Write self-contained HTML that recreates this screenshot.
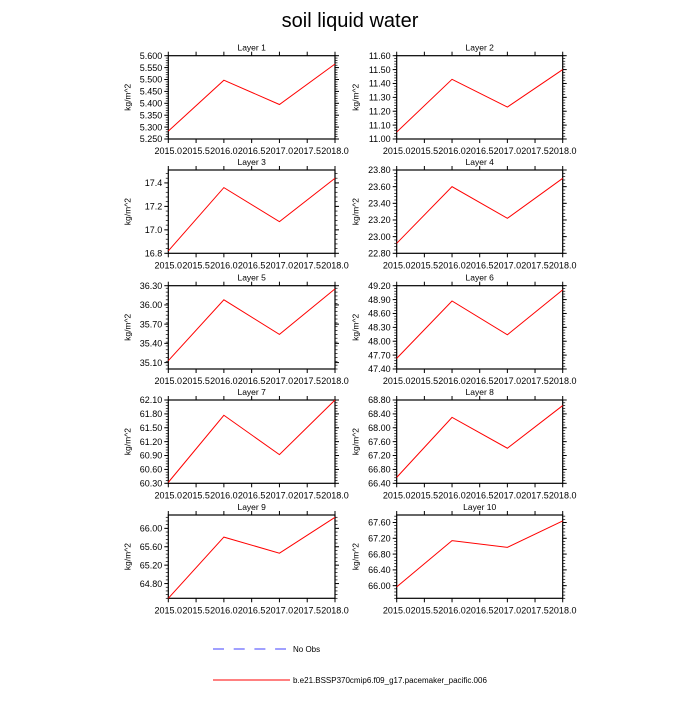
<!DOCTYPE html>
<html><head><meta charset="utf-8"><style>
html,body{margin:0;padding:0;background:#fff;}
svg text{font-family:"Liberation Sans",sans-serif;fill:#000;}
</style></head><body>
<svg id="chart" width="700" height="700" viewBox="0 0 700 700">
<text x="350" y="27" font-size="20" text-anchor="middle">soil liquid water</text>
<g id="panels"></g>
<g>
<line x1="213" y1="649" x2="286" y2="649" stroke="#4040ff" stroke-width="1" stroke-dasharray="11,9.7"/>
<text x="293" y="652" font-size="8">No Obs</text>
<line x1="213" y1="680" x2="290" y2="680" stroke="#ff0000" stroke-width="1"/>
<text x="293" y="683" font-size="8">b.e21.BSSP370cmip6.f09_g17.pacemaker_pacific.006</text>
</g>
</svg>
<script>
const years = [2015, 2016, 2017, 2018];
const xTicks = [2015.0, 2015.5, 2016.0, 2016.5, 2017.0, 2017.5, 2018.0];
const layerNames = ["Layer 1","Layer 2","Layer 3","Layer 4","Layer 5","Layer 6","Layer 7","Layer 8","Layer 9","Layer 10"];
const layer1 = [5.283, 5.497, 5.395, 5.565];
const layer2 = [11.05, 11.43, 11.23, 11.50];
const layer3 = [16.82, 17.36, 17.07, 17.44];
const layer4 = [22.92, 23.60, 23.22, 23.70];
const layer5 = [35.13, 36.08, 35.54, 36.25];
const layer6 = [47.63, 48.87, 48.14, 49.11];
const layer7 = [60.32, 61.77, 60.92, 62.10];
const layer8 = [66.57, 68.30, 67.41, 68.64];
const layer9 = [64.48, 65.81, 65.46, 66.24];
const layer10 = [65.97, 67.14, 66.97, 67.64];
const yMins = [5.25, 11.00, 16.80, 22.80, 35.00, 47.40, 60.30, 66.40, 64.48, 65.68];
const yMaxs = [5.60, 11.60, 17.51, 23.80, 36.30, 49.20, 62.10, 68.80, 66.29, 67.79];
const yTickStarts = [5.25, 11.00, 16.8, 22.80, 35.10, 47.40, 60.30, 66.40, 64.80, 66.00];
const yTickSteps = [0.05, 0.10, 0.2, 0.20, 0.30, 0.30, 0.30, 0.40, 0.40, 0.40];
const yDecimals = [3, 2, 1, 2, 2, 2, 2, 2, 2, 2];
const series = [layer1,layer2,layer3,layer4,layer5,layer6,layer7,layer8,layer9,layer10];

const NS = "http://www.w3.org/2000/svg";
const root = document.getElementById("panels");
function mk(tag, attrs, parent){const e=document.createElementNS(NS,tag);for(const k in attrs)e.setAttribute(k,attrs[k]);parent.appendChild(e);return e;}
const colX = [168.3, 396.7], W = [166.7, 166], tops = [55.7, 170, 285.7, 400, 515], H = 83.3;

for (let i = 0; i < 10; i++) {
  const x0 = colX[i % 2], w = W[i % 2], y0 = tops[Math.floor(i / 2)];
  const g = mk("g", {}, root);
  
  
  const xs = v => x0 + (v - 2015) / 3 * w;
  const ys = v => y0 + H - (v - yMins[i]) / (yMaxs[i] - yMins[i]) * H;
  const t = mk("text", {x: x0 + w / 2, y: y0 - 5, "font-size": 8.5, "text-anchor": "middle"}, g);
  t.textContent = layerNames[i];
  
  
  const yl = mk("text", {x: 0, y: 0, "font-size": 8.5, "text-anchor": "middle", transform: `translate(${x0 - 38},${y0 + H / 2}) rotate(-90)`}, g);
  yl.textContent = "kg/m^2";
  
  
  xTicks.forEach(v => {
    const px = xs(v);
    mk("line", {x1: px, y1: y0 + H, x2: px, y2: y0 + H + 4, stroke: "#000", "stroke-width": 1}, g);
    mk("line", {x1: px, y1: y0, x2: px, y2: y0 - 4, stroke: "#000", "stroke-width": 1}, g);
    const lt = mk("text", {x: px, y: y0 + H + 15, "font-size": 9, "text-anchor": "middle"}, g);
    lt.textContent = v.toFixed(1);
    
    
  });
  const step = yTickSteps[i], minor = step / 5;
  for (let k = 0; ; k++) {
    const v = yMins[i] + k * minor;
    if (v > yMaxs[i] + 1e-9) break;
    const py = ys(v);
    mk("line", {x1: x0, y1: py, x2: x0 - 2.5, y2: py, stroke: "#000", "stroke-width": 0.7}, g);
    mk("line", {x1: x0 + w, y1: py, x2: x0 + w + 2.5, y2: py, stroke: "#000", "stroke-width": 0.7}, g);
  }
  for (let v = yTickStarts[i]; v <= yMaxs[i] + 1e-9; v += step) {
    const py = ys(v);
    mk("line", {x1: x0, y1: py, x2: x0 - 4, y2: py, stroke: "#000", "stroke-width": 1}, g);
    mk("line", {x1: x0 + w, y1: py, x2: x0 + w + 4, y2: py, stroke: "#000", "stroke-width": 1}, g);
    const lt = mk("text", {x: x0 - 6, y: py + 3.2, "font-size": 9, "text-anchor": "end"}, g);
    lt.textContent = v.toFixed(yDecimals[i]);
    
    
  }
  const fr = mk("rect", {x: x0, y: y0, width: w, height: H, fill: "none", stroke: "#000", "stroke-width": 1.2}, g);
  
  
  const pts = series[i].map((v, j) => xs(years[j]).toFixed(2) + "," + ys(v).toFixed(2)).join(" ");
  const pl = mk("polyline", {points: pts, fill: "none", stroke: "#ff0000", "stroke-width": 1}, g);
  
  
}
</script>
</body></html>
